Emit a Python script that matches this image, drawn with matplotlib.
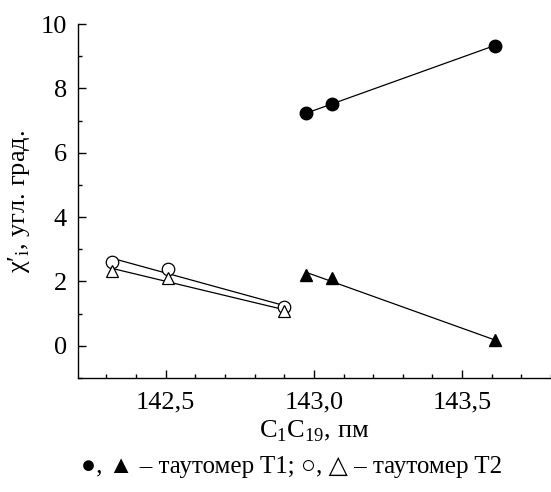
import numpy as np
import matplotlib
matplotlib.use("Agg")
import matplotlib.pyplot as plt
from matplotlib.ticker import MultipleLocator, FixedFormatter, FixedLocator

plt.rcParams["font.family"] = ["Liberation Serif", "DejaVu Serif"]
plt.rcParams["mathtext.fontset"] = "custom"
plt.rcParams["mathtext.rm"] = "Liberation Serif"

# Таутомер T1
x_t1 = [142.973, 143.06, 143.61]
chi_circ_t1 = [7.22, 7.52, 9.33]
chi_tri_t1 = [2.20, 2.10, 0.17]

# Таутомер T2
x_t2 = [142.318, 142.507, 142.90]
chi_circ_t2 = [2.62, 2.40, 1.20]
chi_tri_t2 = [2.32, 2.12, 1.08]

xticks = [142.5, 143.0, 143.5]
xticklabels = ["142,5", "143,0", "143,5"]

fig = plt.figure(figsize=(5.51, 4.92), dpi=100)
ax = fig.add_axes([0.1416, 0.2317, 0.8584, 0.7195])

def fit_line(x, y):
    k, b = np.polyfit(x, y, 1)
    xs = np.array([min(x), max(x)])
    return xs, k * xs + b

for x, y in [(x_t1, chi_circ_t1), (x_t1, chi_tri_t1), (x_t2, chi_circ_t2), (x_t2, chi_tri_t2)]:
    xs, ys = fit_line(x, y)
    ax.plot(xs, ys, color="black", lw=0.9, zorder=1)

ax.plot(x_t1, chi_circ_t1, "o", ms=9, color="black", zorder=3)
ax.plot(x_t1, chi_tri_t1, "^", ms=9, color="black", zorder=3)
ax.plot(x_t2, chi_circ_t2, "o", ms=9, mfc="white", mec="black", mew=0.9, zorder=3)
ax.plot(x_t2, chi_tri_t2, "^", ms=9, mfc="white", mec="black", mew=0.9, zorder=3)

ax.set_xlim(142.204, 143.8)
ax.set_ylim(-1, 10)
ax.xaxis.set_major_locator(FixedLocator(xticks))
ax.xaxis.set_major_formatter(FixedFormatter(xticklabels))
ax.xaxis.set_minor_locator(MultipleLocator(0.1))
ax.set_yticks([0, 2, 4, 6, 8, 10])
ax.yaxis.set_minor_locator(MultipleLocator(1))

ax.spines["top"].set_visible(False)
ax.spines["right"].set_visible(False)
for s in ["left", "bottom"]:
    ax.spines[s].set_linewidth(1.0)
ax.tick_params(which="both", direction="in", labelsize=19, width=1.0)
ax.tick_params(which="major", length=6)
ax.tick_params(which="minor", length=3)
ax.tick_params(axis="y", pad=8)
ax.tick_params(axis="x", pad=10)

ax.set_xlabel(r"C$_1$C$_{19}$, пм", fontsize=19, labelpad=3)
ax.set_ylabel(r"χ′$_\mathregular{i}$, угл. град.", fontsize=19, labelpad=6)

fig.text(0.53, 0.05, "●, ▲ – таутомер T1; ○, △ – таутомер T2", fontsize=18,
         ha="center", va="center", family=["Liberation Serif", "DejaVu Sans"])

fig.savefig("out.png", dpi=100)
